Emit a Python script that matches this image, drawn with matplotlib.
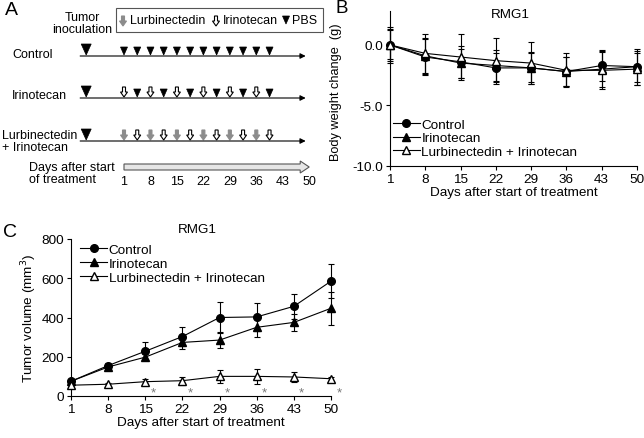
import matplotlib
matplotlib.use('Agg')
import matplotlib.pyplot as plt
from matplotlib.patches import Polygon, Rectangle, FancyArrow
from matplotlib.ticker import FormatStrFormatter

plt.rcParams['font.family'] = ['Liberation Sans', 'DejaVu Sans']
plt.rcParams['font.size'] = 9
plt.rcParams['axes.unicode_minus'] = False
FS = 9.7     # texto de graficas B y C
FSA = 9      # texto del esquema A

# Datos
days = [1, 8, 15, 22, 29, 36, 43, 50]
groups = ['Control', 'Irinotecan', 'Lurbinectedin + Irinotecan']

# Panel B: cambio de peso corporal (g)
bw_control = [0.0, -1.0, -1.4, -1.9, -1.9, -2.2, -1.7, -1.8]
bw_irino = [0.0, -0.9, -1.5, -1.7, -1.9, -2.2, -2.0, -1.8]
bw_combo = [0.0, -0.7, -1.0, -1.3, -1.5, -2.1, -2.1, -2.0]
bw_control_err = [1.5, 1.5, 1.3, 1.2, 1.3, 1.2, 1.3, 1.5]
bw_irino_err = [1.3, 1.5, 1.2, 1.3, 1.2, 1.2, 1.5, 1.3]
bw_combo_err = [1.2, 1.6, 1.9, 1.9, 1.7, 1.4, 1.5, 1.3]

# Panel C: volumen tumoral (mm3)
tv_control = [75, 155, 228, 303, 400, 403, 457, 585]
tv_irino = [75, 148, 198, 273, 285, 350, 375, 447]
tv_combo = [55, 60, 73, 78, 100, 100, 97, 88]
tv_control_err = [8, 12, 45, 50, 80, 70, 65, 88]
tv_irino_err = [8, 10, 15, 35, 40, 50, 45, 85]
tv_combo_err = [5, 8, 15, 20, 35, 40, 25, 10]
star_days = [15, 22, 29, 36, 43, 50]

# Panel A: esquema de dosis
dose_days = [1, 4.5, 8, 11.5, 15, 18.5, 22, 25.5, 29, 32.5, 36, 39.5]
rows = ['Control', 'Irinotecan', 'Lurbinectedin\n+ Irinotecan']
row_control = ['pbs'] * 12
row_irino = ['iri', 'pbs'] * 6
row_combo = ['lur', 'iri'] * 6
inoculation_day = -9
line_start_day, line_end_day = -10.6, 48
axis_days = [1, 8, 15, 22, 29, 36, 43, 50]

fig = plt.figure(figsize=(6.44, 4.39), dpi=100)

# ---------- Panel A (coordenadas en pixeles) ----------
axA = fig.add_axes([0, 0, 1, 1])
axA.set_xlim(0, 644)
axA.set_ylim(439, 0)
axA.axis('off')
axA.patch.set_alpha(0)

def day_x(d):
    return 124 + (d - 1) * 3.78

def arrow_shape(x, yb, face, edge):
    h, w, hh, sw = 10, 7, 5, 3
    pts = [(x - sw/2, yb - h), (x + sw/2, yb - h), (x + sw/2, yb - hh),
           (x + w/2, yb - hh), (x, yb), (x - w/2, yb - hh), (x - sw/2, yb - hh)]
    axA.add_patch(Polygon(pts, closed=True, facecolor=face, edgecolor=edge, lw=0.8))

def tri_shape(x, yb, w=7, h=8):
    axA.add_patch(Polygon([(x - w/2, yb - h), (x + w/2, yb - h), (x, yb)],
                          closed=True, facecolor='black', edgecolor='black', lw=0.5))

def draw_mark(kind, x, yb):
    if kind == 'pbs':
        tri_shape(x, yb)
    elif kind == 'iri':
        arrow_shape(x, yb, 'white', 'black')
    else:
        arrow_shape(x, yb, '#8c8c8c', '#8c8c8c')

axA.text(5, 2, 'A', fontsize=14, va='top', ha='left')
axA.text(82, 24, 'Tumor\ninoculation', ha='center', va='center', linespacing=1.05, fontsize=FSA)

# leyenda del esquema
axA.add_patch(Rectangle((116, 9), 207, 24, facecolor='white', edgecolor='#555555', lw=0.8))
draw_mark('lur', 123, 27)
axA.text(130, 21, 'Lurbinectedin', va='center', fontsize=FSA)
draw_mark('iri', 216, 27)
axA.text(223, 21, 'Irinotecan', va='center', fontsize=FSA)
tri_shape(286, 25)
axA.text(292, 21, 'PBS', va='center', fontsize=FSA)

row_y = [57, 99, 142]
row_marks = [row_control, row_irino, row_combo]
row_label_y = [55, 96, 142]
for name, y, ly, marks in zip(rows, row_y, row_label_y, row_marks):
    if '\n' in name:
        axA.text(2, ly, name, va='center', ha='left', linespacing=1.1, fontsize=FSA)
    else:
        axA.text(12, ly, name, va='center', ha='left', fontsize=FSA)
    axA.annotate('', xy=(day_x(line_end_day) + 4, y), xytext=(day_x(line_start_day), y),
                 arrowprops=dict(arrowstyle='-|>', lw=0.8, color='black', mutation_scale=8,
                                 shrinkA=0, shrinkB=0))
    tri_shape(day_x(inoculation_day), y - 1, w=10, h=11)
    for d, k in zip(dose_days, marks):
        draw_mark(k, day_x(d), y - 1)

axA.text(29, 174, 'Days after start\nof treatment', va='center', ha='left', linespacing=1.1,
         fontsize=FSA)
x0, x1 = day_x(axis_days[0]), day_x(axis_days[-1])
axA.add_patch(FancyArrow(x0, 168, x1 - x0, 0, width=6, head_width=12, head_length=9,
                         length_includes_head=True, facecolor='#e6e6e6',
                         edgecolor='#555555', lw=0.8))
for d in axis_days:
    axA.text(day_x(d), 182, str(d), ha='center', va='center', fontsize=FSA)

axA.text(336, 0, 'B', fontsize=13.5, va='top', ha='left')
axA.text(3, 224, 'C', fontsize=14, va='top', ha='left')

# ---------- estilo comun ----------
styles = [dict(marker='o', mfc='black', mec='black', ms=5.5),
          dict(marker='^', mfc='black', mec='black', ms=6),
          dict(marker='^', mfc='white', mec='black', ms=6)]

def style_axes(ax):
    for s in ['top', 'right']:
        ax.spines[s].set_visible(False)
    for s in ['left', 'bottom']:
        ax.spines[s].set_linewidth(0.8)
    ax.tick_params(direction='out', length=3, width=0.8, labelsize=FS, pad=2)
    ax.set_xticks(days)
    ax.set_xlim(1, 50)
    ax.set_xlabel('Days after start of treatment', fontsize=FS, labelpad=1)

def draw_series(ax, series, errors):
    for vals, errs, st, lab in zip(series, errors, styles, groups):
        ax.errorbar(days, vals, yerr=errs, fmt='none', ecolor='black', elinewidth=0.8,
                    capsize=2.5, capthick=0.8, clip_on=False)
        ax.plot(days, vals, color='black', lw=0.8, label=lab, clip_on=False, zorder=3, **st)

# ---------- Panel B ----------
axB = fig.add_axes([390/644, 1 - 167/439, 247/644, 155/439])
draw_series(axB, [bw_control, bw_irino, bw_combo], [bw_control_err, bw_irino_err, bw_combo_err])
style_axes(axB)
axB.set_ylim(-10, 2.8)
axB.set_yticks([0, -5, -10])
axB.yaxis.set_major_formatter(FormatStrFormatter('%.1f'))
axB.set_ylabel('Body weight change  (g)', fontsize=9.2, labelpad=2)
axB.yaxis.set_label_coords(-0.195, 0.48)
axB.text(0.486, 0.98, 'RMG1', transform=axB.transAxes, ha='center', va='center', fontsize=FS)
axB.legend(loc='lower left', bbox_to_anchor=(-0.026, -0.01), frameon=False, handlelength=2.0,
           handletextpad=0.1, labelspacing=0.1, fontsize=FS, borderpad=0.2)

# ---------- Panel C ----------
axC = fig.add_axes([71/644, 42/439, 260/644, 157/439])
draw_series(axC, [tv_control, tv_irino, tv_combo], [tv_control_err, tv_irino_err, tv_combo_err])
for d in star_days:
    axC.text(d + 1.5, 18, '*', color='#777777', ha='center', va='center', fontsize=FS)
style_axes(axC)
axC.set_ylim(0, 800)
axC.set_yticks([0, 200, 400, 600, 800])
axC.set_ylabel('Tumor volume (mm$^3$)', fontsize=FS, labelpad=2)
axC.text(0.485, 1.064, 'RMG1', transform=axC.transAxes, ha='center', va='center', fontsize=FS)
axC.legend(loc='upper left', bbox_to_anchor=(0.0, 1.03), frameon=False, handlelength=2.0,
           handletextpad=0.1, labelspacing=0.1, fontsize=FS, borderpad=0.2)

plt.savefig('out.png', dpi=100)
